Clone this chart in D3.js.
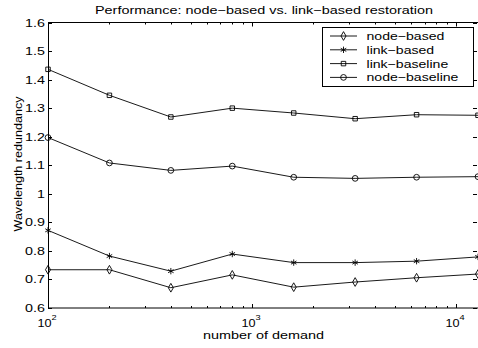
<!DOCTYPE html>
<html>
<head>
<meta charset="utf-8">
<script src="https://cdn.jsdelivr.net/npm/d3@7"></script>
<style>
  body { margin: 0; background: #fff; }
  svg { display: block; font-family: "Liberation Sans", Arial, sans-serif; }
</style>
</head>
<body>
<svg width="478" height="348"></svg>
<script>
"use strict";

// demand sizes on the x axis
var demands = [100, 200, 400, 800, 1600, 3200, 6400, 12800];

var nodeBased     = [0.734, 0.734, 0.671, 0.716, 0.673, 0.691, 0.706, 0.719];
var linkBased     = [0.872, 0.782, 0.729, 0.789, 0.759, 0.759, 0.764, 0.779];
var linkBaseline  = [1.436, 1.345, 1.269, 1.300, 1.283, 1.263, 1.277, 1.275];
var nodeBaseline  = [1.197, 1.108, 1.082, 1.097, 1.058, 1.054, 1.058, 1.060];

var seriesNames = ['node\u2212based', 'link\u2212based', 'link\u2212baseline', 'node\u2212baseline'];
var yTicks = [0.6, 0.7, 0.8, 0.9, 1, 1.1, 1.2, 1.3, 1.4, 1.5, 1.6];
var xMajor = [100, 1000, 10000];

var svg = d3.select('svg');
var pLeft = 48, pRight = 478, pTop = 22.5, pBottom = 308;
var fs = 11;

var x = d3.scaleLog().domain([100, 12800]).range([pLeft, pRight]);
var y = d3.scaleLinear().domain([0.6, 1.6]).range([pBottom, pTop]);

var series = [
    { name: seriesNames[0], values: nodeBased, sym: d3.symbolDiamond, size: 22 },
    { name: seriesNames[1], values: linkBased, sym: d3.symbolAsterisk, size: 28 },
    { name: seriesNames[2], values: linkBaseline, sym: d3.symbolSquare, size: 20 },
    { name: seriesNames[3], values: nodeBaseline, sym: d3.symbolCircle, size: 26 }
];

// minor ticks for log axis
var xMinor = [];
[100, 1000, 10000].forEach(function(d) {
    for (var k = 2; k <= 9; k++) {
        if (d * k <= 12800) xMinor.push(d * k);
    }
});

var axes = svg.append('g').attr('stroke', '#000').attr('stroke-width', 1);

// y ticks, inward on both sides
yTicks.forEach(function(v) {
    var yy = Math.round(y(v)) + 0.5;
    axes.append('line').attr('x1', pLeft).attr('x2', pLeft + 4).attr('y1', yy).attr('y2', yy);
    axes.append('line').attr('x1', pRight - 5).attr('x2', pRight - 1).attr('y1', yy).attr('y2', yy);
});

// x ticks, top and bottom
xMajor.forEach(function(v) {
    var xx = Math.round(x(v)) + 0.5;
    axes.append('line').attr('x1', xx).attr('x2', xx).attr('y1', pBottom).attr('y2', pBottom - 4);
    axes.append('line').attr('x1', xx).attr('x2', xx).attr('y1', pTop).attr('y2', pTop + 4);
});
xMinor.forEach(function(v) {
    var xx = Math.round(x(v)) + 0.5;
    axes.append('line').attr('x1', xx).attr('x2', xx).attr('y1', pBottom).attr('y2', pBottom - 2);
    axes.append('line').attr('x1', xx).attr('x2', xx).attr('y1', pTop).attr('y2', pTop + 2);
});

// box
axes.append('rect')
    .attr('x', pLeft + 0.5).attr('y', pTop)
    .attr('width', pRight - pLeft).attr('height', pBottom - pTop)
    .attr('fill', 'none');

// the old screen font is wider than Liberation Sans, so text gets stretched
function wideText(parent, tx, ty, sx, anchor) {
    return parent.append('text')
        .attr('transform', 'translate(' + tx + ',' + ty + ') scale(' + sx + ',1)')
        .attr('text-anchor', anchor);
}

var lab = svg.append('g').attr('font-size', fs).attr('fill', '#000');
yTicks.forEach(function(v) {
    wideText(lab, pLeft - 3, y(v) + 4, 1.3, 'end')
        .text(v === 1 ? '1' : v.toFixed(1));
});
xMajor.forEach(function(v) {
    var t = wideText(lab, x(v) - 1, 326.5, 1.15, 'middle');
    t.append('tspan').text('10');
    t.append('tspan').attr('font-size', 8).attr('dy', -7).text(Math.round(Math.log10(v)));
});

lab.append('text')
    .attr('x', 203).attr('y', 338.5)
    .attr('textLength', 121)
    .attr('lengthAdjust', 'spacingAndGlyphs')
    .text('number of demand');

lab.append('text')
    .attr('transform', 'translate(21.5,231.5) rotate(-90)')
    .attr('textLength', 135)
    .attr('lengthAdjust', 'spacingAndGlyphs')
    .text('Wavelength redundancy');

lab.append('text')
    .attr('x', 95).attr('y', 14)
    .attr('textLength', 338)
    .attr('lengthAdjust', 'spacingAndGlyphs')
    .text('Performance: node\u2212based vs. link\u2212based restoration');

// lines and markers
var line = d3.line()
    .x(function(d, i) { return x(demands[i]); })
    .y(function(d) { return y(d); });

series.forEach(function(s) {
    var g = svg.append('g');
    g.append('path')
        .attr('d', line(s.values))
        .attr('fill', 'none')
        .attr('stroke', '#000')
        .attr('stroke-width', 0.9);
    g.selectAll('path.m')
        .data(s.values)
        .enter()
        .append('path')
        .attr('class', 'm')
        .attr('d', d3.symbol().type(s.sym).size(s.size))
        .attr('transform', function(d, i) { return 'translate(' + x(demands[i]) + ',' + y(d) + ')'; })
        .attr('fill', 'none')
        .attr('stroke', '#000')
        .attr('stroke-width', 0.9);
});

// legend
var leg = svg.append('g');
leg.append('rect')
    .attr('x', 322.5).attr('y', 27.5)
    .attr('width', 151).attr('height', 59)
    .attr('fill', '#fff')
    .attr('stroke', '#000')
    .attr('stroke-width', 1);

series.forEach(function(s, i) {
    var yy = 36 + i * 13.8;
    leg.append('line')
        .attr('x1', 330).attr('x2', 357)
        .attr('y1', yy).attr('y2', yy)
        .attr('stroke', '#000').attr('stroke-width', 0.9);
    leg.append('path')
        .attr('d', d3.symbol().type(s.sym).size(s.size))
        .attr('transform', 'translate(343.5,' + yy + ')')
        .attr('fill', 'none')
        .attr('stroke', '#000')
        .attr('stroke-width', 0.9);
    wideText(leg, 366.5, yy + 4, 1.28, 'start')
        .attr('font-size', fs)
        .text(s.name);
});
</script>
</body>
</html>
